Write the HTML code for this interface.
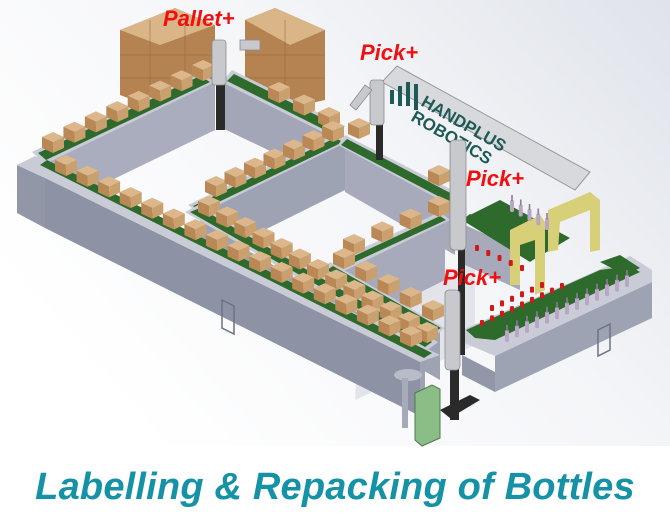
<!DOCTYPE html>
<html><head><meta charset="utf-8"><style>
html,body{margin:0;padding:0;background:#fff;}
#w{position:relative;width:670px;height:526px;overflow:hidden;background:#fff;}
.t{position:absolute;left:0;width:670px;top:466px;text-align:center;font-family:"Liberation Sans",sans-serif;font-style:italic;font-weight:bold;font-size:38px;color:#1592a6;letter-spacing:0.2px;}
</style></head><body><div id="w">
<svg width="670" height="455" viewBox="0 0 670 455" style="position:absolute;left:0;top:0">
<defs>
<linearGradient id="bg" x1="0" y1="0.6" x2="1" y2="0"><stop offset="0" stop-color="#ffffff"/><stop offset="0.55" stop-color="#f4f5f8"/><stop offset="1" stop-color="#dfe3ea"/></linearGradient>
<g id="bx"><polygon points="0,5 11,0 22,5 11,10" fill="#dcb78c"/><polygon points="0,5 11,10 11,21 0,16" fill="#b98855"/><polygon points="11,10 22,5 22,16 11,21" fill="#caa06f"/></g>
<g id="bt"><rect x="0" y="0" width="4" height="12" rx="1.5" fill="#b9a6c4"/><rect x="1.2" y="-5" width="1.6" height="6" fill="#8e7aa0"/></g>
<g id="rb"><rect x="0" y="0" width="4" height="6" rx="1" fill="#d01a1a"/></g>
</defs>
<rect width="670" height="455" fill="url(#bg)"/>
<rect y="446" width="670" height="9" fill="#ffffff"/>

<!-- pallet -->
<polygon points="120,30 175,8 215,25 215,100 160,110 120,95" fill="#b58352"/>
<polygon points="120,30 175,8 215,25 160,45" fill="#d9b587"/>
<polygon points="245,20 275,8 325,30 325,100 280,110 245,90" fill="#b58352"/>
<polygon points="245,20 275,8 325,30 290,45" fill="#d9b587"/>
<g stroke="#8f6438" stroke-width="0.7" opacity="0.7"><line x1="120" y1="55" x2="215" y2="55"/><line x1="120" y1="78" x2="215" y2="78"/><line x1="245" y1="55" x2="325" y2="55"/><line x1="245" y1="78" x2="325" y2="78"/><line x1="150" y1="20" x2="150" y2="105"/><line x1="185" y1="20" x2="185" y2="105"/><line x1="285" y1="20" x2="285" y2="105"/></g>

<!-- back-left conveyor -->
<polygon points="40,160 205,80 215,86 215,130 50,210" fill="#a9adbd"/>
<polygon points="32,152 200,72 215,82 45,164" fill="#c9ccd6"/>
<polygon points="38,153 200,76 210,82 46,160" fill="#2e6a2c"/>
<polygon points="222,82 335,138 335,182 222,128" fill="#a2a6b7"/>
<polygon points="232,70 345,126 335,138 222,82" fill="#c9ccd6"/>
<polygon points="234,74 340,127 333,134 227,81" fill="#2e6a2c"/>
<polygon points="200,212 345,142 345,190 200,262" fill="#9ea3b4"/>
<polygon points="188,205 335,134 347,142 200,214" fill="#c9ccd6"/>
<polygon points="193,206 335,138 343,142 200,211" fill="#2e6a2c"/>
<polygon points="345,142 455,205 455,255 345,192" fill="#a6aabb"/>
<polygon points="345,135 462,195 455,208 338,145" fill="#c9ccd6"/>
<polygon points="347,139 458,197 453,204 341,145" fill="#2e6a2c"/>
<polygon points="355,400 475,345 475,260 360,315" fill="#e2e4ea"/>
<polygon points="340,270 445,222 445,280 355,325" fill="#a6aabb"/>
<polygon points="333,262 440,212 450,220 342,272" fill="#c9ccd6"/>
<polygon points="337,264 440,216 446,220 342,268" fill="#2e6a2c"/>
<polygon points="335,270 440,330 440,380 335,320" fill="#9ea3b4"/>
<polygon points="330,262 445,328 435,336 322,270" fill="#c9ccd6"/>
<polygon points="333,266 441,328 434,332 327,270" fill="#2e6a2c"/>
<polygon points="198,222 425,352 425,405 198,275" fill="#9ea3b4"/>
<polygon points="185,212 200,204 438,342 425,352" fill="#c9ccd6"/>
<polygon points="190,212 200,208 432,342 425,347" fill="#2e6a2c"/>
<!-- front long -->
<polygon points="17,165 45,178 45,228 17,213" fill="#9297a8"/>
<polygon points="45,178 420,362 420,416 45,228" fill="#8d92a4"/>
<polygon points="17,165 35,156 440,355 420,362 45,178" fill="#c9ccd6"/>
<polygon points="40,165 47,160 432,353 424,358" fill="#2e6a2c"/>
<polygon points="222,300 234,306 234,334 222,328" fill="none" stroke="#6d7283" stroke-width="1.5"/>
<!-- bottle area -->
<polygon points="465,225 520,250 520,290 465,265" fill="#a6aabb"/>
<polygon points="470,215 500,200 570,238 540,256" fill="#2e6a2c"/>
<polygon points="462,220 470,214 545,252 530,262" fill="#2e6a2c"/>
<polygon points="495,392 652,318 652,282 495,356" fill="#9ea3b4"/>
<polygon points="462,355 495,372 495,392 462,375" fill="#9297a8"/>
<polygon points="462,330 630,256 652,270 652,282 495,356 462,342" fill="#c9ccd6"/>
<polygon points="466,330 600,270 630,266 640,272 495,340 475,338" fill="#2e6a2c"/>
<polygon points="600,262 620,255 640,268 625,275" fill="#2e6a2c"/>
<polygon points="598,330 610,324 610,350 598,356" fill="none" stroke="#6d7283" stroke-width="1.5"/>
<polygon points="510,230 540,215 545,222 545,290 535,295 535,240 520,245 520,285 510,285" fill="#d7d078"/>
<polygon points="548,210 590,192 600,200 600,250 590,252 590,210 560,222 558,250 548,252" fill="#d7d078"/>
<g id="boxes"></g>
<!-- sign -->
<polygon points="382,82 397,66 590,172 575,190" fill="#d8d9dc" stroke="#999" stroke-width="1"/>
<text x="420" y="105" font-family="Liberation Sans,sans-serif" font-weight="bold" font-size="17" fill="#1d5a55" transform="rotate(30 420 105)">HANDPLUS</text>
<text x="410" y="120" font-family="Liberation Sans,sans-serif" font-weight="bold" font-size="17" fill="#1d5a55" transform="rotate(30 410 120)">ROBOTICS</text>
<g fill="#1d5a55"><rect x="390" y="90" width="4" height="14"/><rect x="398" y="86" width="4" height="20"/><rect x="406" y="82" width="4" height="24"/><rect x="414" y="84" width="4" height="26"/></g>
<g fill="#2a2a2a"><rect x="216" y="60" width="9" height="70"/><rect x="376" y="100" width="7" height="60"/><rect x="458" y="225" width="7" height="130"/><rect x="450" y="360" width="9" height="60"/><polygon points="440,410 470,395 480,400 450,418"/></g>
<g fill="#c8c9cd" stroke="#8a8b90" stroke-width="0.8"><rect x="212" y="40" width="14" height="45" rx="3"/><rect x="370" y="80" width="14" height="45" rx="3"/><polygon points="350,105 365,85 372,90 356,110"/><rect x="450" y="140" width="16" height="110" rx="4"/><rect x="445" y="290" width="15" height="80" rx="4"/><rect x="240" y="40" width="20" height="10"/></g>
<polygon points="415,393 432,385 440,389 440,438 422,446 415,440" fill="#8bbd86" stroke="#4f7a4c" stroke-width="1"/>
<ellipse cx="408" cy="375" rx="14" ry="6" fill="#b8bcc8"/>
<rect x="402" y="378" width="6" height="50" fill="#a6aabb"/>
<g font-family="Liberation Sans,sans-serif" font-style="italic" font-weight="bold" fill="#f01010">
<text x="163" y="26" font-size="22">Pallet+</text>
<text x="360" y="60" font-size="22">Pick+</text>
<text x="466" y="186" font-size="22">Pick+</text>
<text x="443" y="285" font-size="22">Pick+</text>
</g>
</svg>
<div class="t">Labelling &amp; Repacking of Bottles</div>
</div>
<script>
var g=document.getElementById('boxes'),ns='http://www.w3.org/2000/svg';
function u(id,x,y){var e=document.createElementNS(ns,'use');e.setAttribute('href','#'+id);e.setAttribute('x',x);e.setAttribute('y',y);g.appendChild(e);}
function line(id,x1,y1,x2,y2,n){for(var i=0;i<n;i++){u(id,x1+(x2-x1)*i/(n-1),y1+(y2-y1)*i/(n-1));}}
line('bx',42,132,192,60,8);
line('bx',268,82,318,107,3);
line('bx',205,176,322,121,7);
line('bx',348,118,428,165,2);
line('bx',198,196,416,322,13);
line('bx',55,155,400,326,17);
line('bx',343,234,428,196,4);
line('bx',333,248,422,300,5);
line('rb',475,245,520,265,5);
line('rb',480,320,560,283,9);
line('rb',490,305,540,282,6);
line('bt',505,330,625,275,13);
line('bt',510,200,545,218,5);
</script>
</body></html>
